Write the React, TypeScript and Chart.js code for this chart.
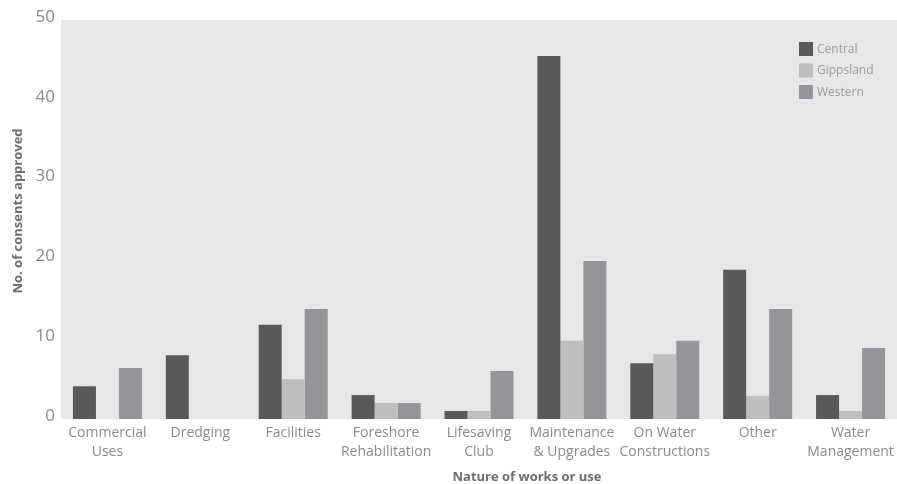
import React, { useEffect, useRef } from 'react';
import { Chart, registerables } from 'chart.js';

Chart.register(...registerables);

const categories: (string | string[])[] = [
  ['Commercial', 'Uses'],
  'Dredging',
  'Facilities',
  ['Foreshore', 'Rehabilitation'],
  ['Lifesaving', 'Club'],
  ['Maintenance', '& Upgrades'],
  ['On Water', 'Constructions'],
  'Other',
  ['Water', 'Management'],
];

const seriesNames = ['Central', 'Gippsland', 'Western'];
const centralValues = [4.1, 8.0, 11.8, 3.0, 1.0, 45.5, 7.0, 18.7, 3.0];
const gippslandValues = [0, 0, 5.0, 2.0, 1.0, 9.8, 8.1, 2.9, 1.0];
const westernValues = [6.4, 0, 13.8, 2.0, 6.0, 19.8, 9.8, 13.8, 8.9];
const seriesColors = ['#58595b', '#bcbec0', '#939598'];

const yTickValues = [0, 10, 20, 30, 40, 50];
const xTitle = 'Nature of works or use';
const yTitle = 'No. of consents approved';

const FONT = '"Open Sans", "Noto Sans", sans-serif';

const backgroundPlugin = {
  id: 'plotBackground',
  beforeDraw(chart: any) {
    const { ctx, chartArea } = chart;
    ctx.save();
    ctx.fillStyle = '#e6e7e8';
    ctx.fillRect(chartArea.left, chartArea.top, chartArea.right - chartArea.left, chartArea.bottom - chartArea.top);
    ctx.restore();
  },
};

const decorPlugin = {
  id: 'decor',
  afterDraw(chart: any) {
    const { ctx } = chart;
    ctx.save();
    // legend inside plot
    ctx.font = `12px ${FONT}`;
    ctx.textBaseline = 'middle';
    ctx.textAlign = 'left';
    chart.data.datasets.forEach((ds: any, i: number) => {
      const y = 42 + i * 21.5;
      ctx.fillStyle = ds.backgroundColor;
      ctx.fillRect(799, y, 14, 14);
      ctx.fillStyle = '#9a9b9d';
      ctx.fillText(ds.label, 817, y + 7.5);
    });
    // axis titles
    ctx.fillStyle = '#6d6e71';
    ctx.font = `bold 13px ${FONT}`;
    ctx.textAlign = 'center';
    ctx.textBaseline = 'middle';
    ctx.fillText(xTitle, 527, 477);
    ctx.translate(18, 211);
    ctx.rotate(-Math.PI / 2);
    ctx.fillText(yTitle, 0, 0);
    ctx.restore();
  },
};

export default function App() {
  const canvasRef = useRef<HTMLCanvasElement | null>(null);

  useEffect(() => {
    document.body.style.margin = '0';
    const canvas = canvasRef.current;
    if (!canvas) return;
    const chart = new Chart(canvas, {
      type: 'bar',
      data: {
        labels: categories as any,
        datasets: [
          { label: seriesNames[0], data: centralValues, backgroundColor: seriesColors[0] },
          { label: seriesNames[1], data: gippslandValues, backgroundColor: seriesColors[1] },
          { label: seriesNames[2], data: westernValues, backgroundColor: seriesColors[2] },
        ],
      },
      options: {
        responsive: false,
        animation: false,
        layout: { padding: { top: 20, right: 0, left: 0, bottom: 0 } },
        datasets: {
          bar: { categoryPercentage: 0.743, barPercentage: 1.0, borderWidth: 0 },
        },
        plugins: {
          legend: { display: false },
          tooltip: { enabled: false },
        },
        scales: {
          x: {
            grid: { display: false, drawTicks: false },
            border: { display: false },
            ticks: {
              color: '#8a8b8d',
              font: { family: FONT, size: 14, lineHeight: 1.35 },
              padding: 5,
              maxRotation: 0,
              autoSkip: false,
            },
            afterFit(scale: any) {
              scale.height = 65;
              scale.paddingLeft = 0;
              scale.paddingRight = 0;
            },
          },
          y: {
            min: 0,
            max: 50,
            grid: { display: false, drawTicks: false },
            border: { display: false },
            afterBuildTicks(scale: any) {
              scale.ticks = yTickValues.map((v) => ({ value: v }));
            },
            ticks: {
              color: '#8a8b8d',
              font: { family: FONT, size: 17 },
              padding: 6,
              labelOffset: -3,
            },
            afterFit(scale: any) {
              scale.width = 61;
              scale.paddingTop = 0;
              scale.paddingBottom = 0;
            },
          },
        },
      },
      plugins: [backgroundPlugin, decorPlugin],
    });
    return () => chart.destroy();
  }, []);

  return (
    <div style={{ width: 897, height: 484 }}>
      <canvas ref={canvasRef} width={897} height={484} />
    </div>
  );
}
